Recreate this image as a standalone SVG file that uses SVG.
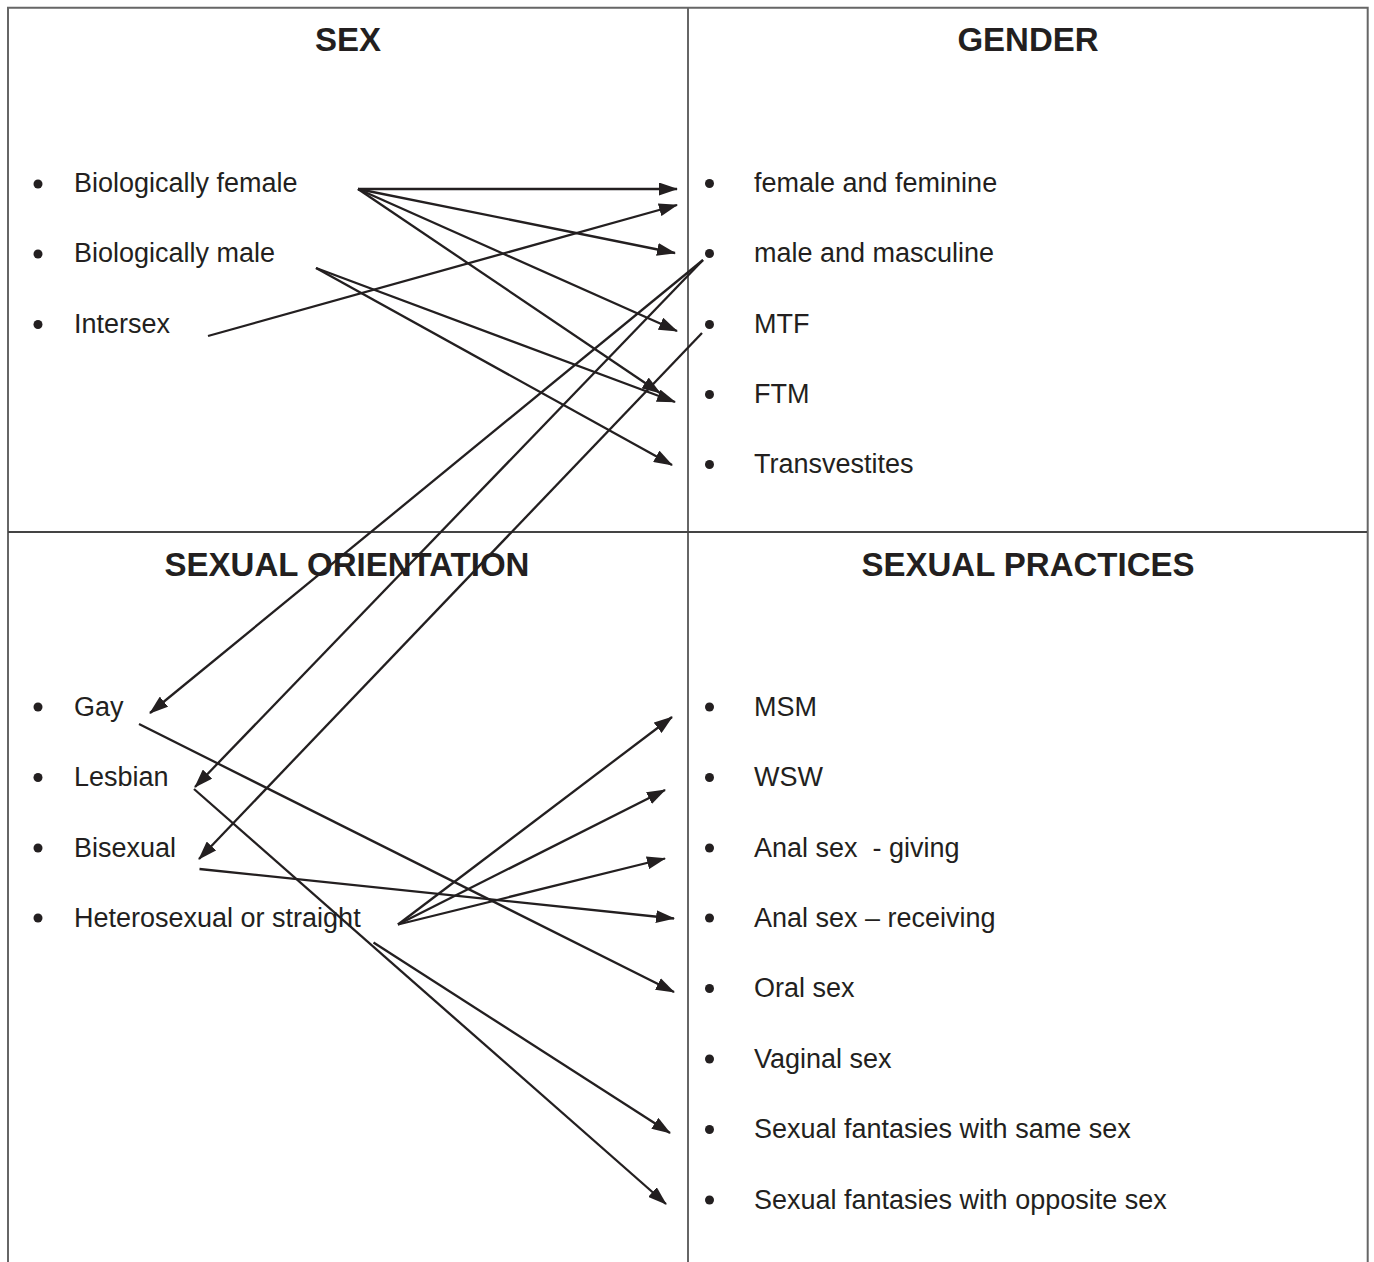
<svg xmlns="http://www.w3.org/2000/svg" width="1374" height="1262" viewBox="0 0 1374 1262">
<style>
.frame{stroke:#666;stroke-width:2;fill:none}
.mid{stroke:#444;stroke-width:2;fill:none}
.hd{font-family:"Liberation Sans",Arial,sans-serif;font-weight:bold;font-size:33px;fill:#231f20;text-anchor:middle}
.t{font-family:"Liberation Sans",Arial,sans-serif;font-size:27px;fill:#231f20}
.b{fill:#231f20}
.c line{stroke:#231f20;stroke-width:2.3;fill:none;marker-end:url(#ah)}
</style>
<defs>
<marker id="ah" markerUnits="userSpaceOnUse" markerWidth="19" markerHeight="13" refX="18" refY="6.5" orient="auto">
<path d="M0,0 L19,6.5 L0,13 z" fill="#231f20"/>
</marker>
</defs>
<rect width="1374" height="1262" fill="#fff"/>
<g id="frame">
<path class="frame" d="M8,1262 V7.7 H1367.7 V1262"/>
<line class="frame" x1="688" y1="8" x2="688" y2="1262"/>
<line class="mid" x1="8" y1="532" x2="1367" y2="532"/>
</g>
<g id="headers">
<text id="h-sex" class="hd" x="348" y="51">SEX</text>
<text id="h-gender" class="hd" x="1028" y="51">GENDER</text>
<text id="h-orient" class="hd" x="347" y="576">SEXUAL ORIENTATION</text>
<text id="h-pract" class="hd" x="1028" y="576">SEXUAL PRACTICES</text>
</g>
<g id="sex-female"><circle class="b" cx="38" cy="184" r="4.5"/><text class="t" x="74" y="192">Biologically female</text></g>
<g id="sex-male"><circle class="b" cx="38" cy="254" r="4.5"/><text class="t" x="74" y="262">Biologically male</text></g>
<g id="sex-intersex"><circle class="b" cx="38" cy="324.5" r="4.5"/><text class="t" x="74" y="333">Intersex</text></g>
<g id="g-ff"><circle class="b" cx="709.5" cy="183.5" r="4.5"/><text class="t" x="754" y="192">female and feminine</text></g>
<g id="g-mm"><circle class="b" cx="709.5" cy="253.5" r="4.5"/><text class="t" x="754" y="262">male and masculine</text></g>
<g id="g-mtf"><circle class="b" cx="709.5" cy="324.5" r="4.5"/><text class="t" x="754" y="333">MTF</text></g>
<g id="g-ftm"><circle class="b" cx="709.5" cy="394.5" r="4.5"/><text class="t" x="754" y="403">FTM</text></g>
<g id="g-tv"><circle class="b" cx="709.5" cy="464.5" r="4.5"/><text class="t" x="754" y="473">Transvestites</text></g>
<g id="o-gay"><circle class="b" cx="38" cy="707" r="4.5"/><text class="t" x="74" y="715.5">Gay</text></g>
<g id="o-lesbian"><circle class="b" cx="38" cy="777.5" r="4.5"/><text class="t" x="74" y="786">Lesbian</text></g>
<g id="o-bisexual"><circle class="b" cx="38" cy="848" r="4.5"/><text class="t" x="74" y="856.5">Bisexual</text></g>
<g id="o-hetero"><circle class="b" cx="38" cy="918" r="4.5"/><text class="t" x="74" y="926.5">Heterosexual or straight</text></g>
<g id="p-msm"><circle class="b" cx="709.5" cy="707" r="4.5"/><text class="t" x="754" y="715.5">MSM</text></g>
<g id="p-wsw"><circle class="b" cx="709.5" cy="777.5" r="4.5"/><text class="t" x="754" y="786">WSW</text></g>
<g id="p-giving"><circle class="b" cx="709.5" cy="848" r="4.5"/><text class="t" x="754" y="856.5" xml:space="preserve">Anal sex  - giving</text></g>
<g id="p-receiving"><circle class="b" cx="709.5" cy="918" r="4.5"/><text class="t" x="754" y="926.5">Anal sex – receiving</text></g>
<g id="p-oral"><circle class="b" cx="709.5" cy="988.5" r="4.5"/><text class="t" x="754" y="997">Oral sex</text></g>
<g id="p-vaginal"><circle class="b" cx="709.5" cy="1059" r="4.5"/><text class="t" x="754" y="1067.5">Vaginal sex</text></g>
<g id="p-fsame"><circle class="b" cx="709.5" cy="1129.5" r="4.5"/><text class="t" x="754" y="1138">Sexual fantasies with same sex</text></g>
<g id="p-fopp"><circle class="b" cx="709.5" cy="1200" r="4.5"/><text class="t" x="754" y="1208.5">Sexual fantasies with opposite sex</text></g>
<g id="connectors" class="c">
<line x1="358" y1="189" x2="677" y2="189"/>
<line x1="358" y1="189" x2="675" y2="253"/>
<line x1="358" y1="189" x2="677" y2="331"/>
<line x1="358" y1="189" x2="660" y2="393"/>
<line x1="316" y1="268" x2="675" y2="402"/>
<line x1="316" y1="268" x2="672" y2="465"/>
<line x1="208" y1="336" x2="677" y2="205"/>
<line x1="703" y1="260" x2="150" y2="713"/>
<line x1="703" y1="260" x2="195" y2="787"/>
<line x1="702" y1="333" x2="199" y2="859"/>
<line x1="139" y1="724" x2="674" y2="992"/>
<line x1="194" y1="789" x2="666" y2="1204"/>
<line x1="199.5" y1="869" x2="674" y2="918.5"/>
<line x1="398" y1="924.5" x2="672" y2="717"/>
<line x1="398" y1="924.5" x2="665" y2="790"/>
<line x1="398" y1="924.5" x2="665" y2="858.5"/>
<line x1="373.5" y1="942.5" x2="670" y2="1133"/>
</g>
</svg>
